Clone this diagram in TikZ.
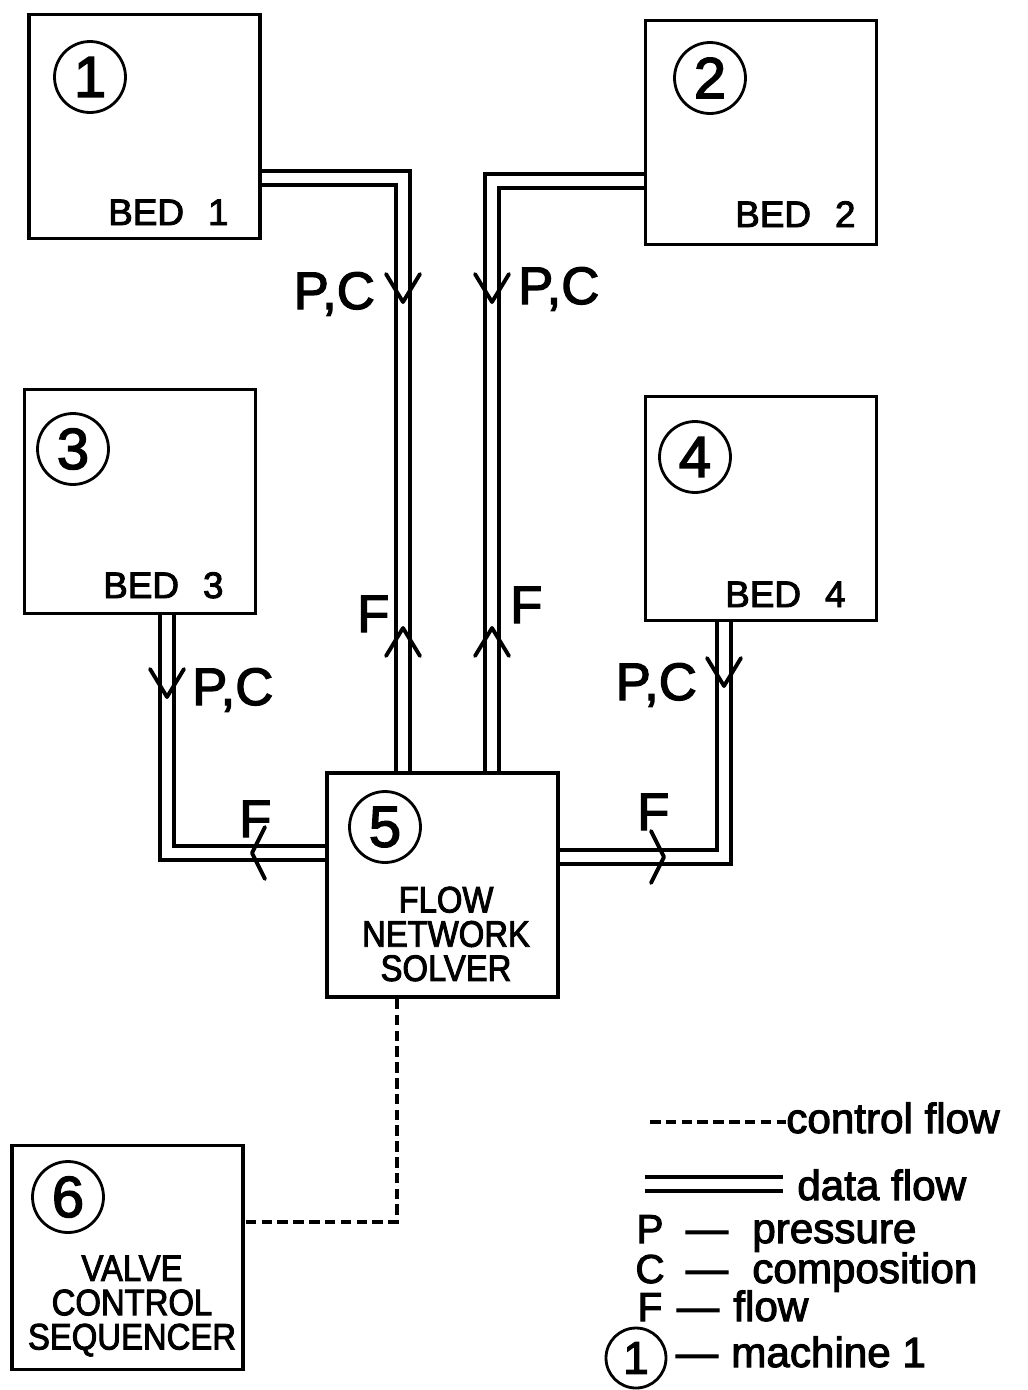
\documentclass[tikz,border=0pt]{standalone}
\usepackage{fontspec}
\setmainfont{Liberation Sans}[RawFeature={embolden=2.5}]
\newfontfamily\narrowfont{Liberation Sans}[FakeStretch=0.89, RawFeature={embolden=2.5}]
\usetikzlibrary{backgrounds}

\begin{document}
\begin{tikzpicture}[
    x=0.02cm, y=-0.02cm,
    box/.style={draw, line width=2.2pt, minimum width=4.62cm, minimum height=4.48cm, inner sep=0pt},
    num/.style={circle, draw, line width=1.6pt, minimum size=1.42cm, inner sep=0pt, font=\fontsize{33}{33}\selectfont},
    bed_label/.style={anchor=base west, font=\fontsize{21}{21}\selectfont},
    box_text/.style={align=center, font=\narrowfont\fontsize{21}{19.5}\selectfont},
    flow_label/.style={font=\fontsize{30}{30}\selectfont},
    legend/.style={anchor=base west, inner sep=0pt, font=\fontsize{24}{24}\selectfont},
    key/.style={anchor=base, inner sep=0pt, font=\fontsize{23}{23}\selectfont},
    dataflow/.style={double, double distance=5.4pt, line width=2.2pt},
    ctrlflow/.style={line width=2pt, dash pattern=on 6pt off 3pt},
    pics/flowtip/.style 2 args={code={
        \draw[line width=2.2pt, line cap=round, line join=round] (-#1,-#2) -- (0,0) -- (#1,-#2);}}
]
    \useasboundingbox (0,0) rectangle (1028,1390);
    \def\gap{\hspace{0.65em}}

    % machines
    \node[box] (bed1) at (144.5,126.5) {};
    \node[box] (bed2) at (761,132.5) {};
    \node[box] (bed3) at (140,501.5) {};
    \node[box] (bed4) at (761,508.5) {};
    \node[box] (solver) at (442.5,885) {};
    \node[box] (seq) at (127.5,1257.5) {};

    \node[num] (n1) at (90,77) {1};
    \node[num] (n2) at (710,78) {2};
    \node[num] (n3) at (73,449) {3};
    \node[num] (n4) at (695,457) {4};
    \node[num] (n5) at (385,827) {5};
    \node[num] (n6) at (68,1197) {6};

    \node[bed_label] at (102,225) {BED\gap 1};
    \node[bed_label] at (729,227) {BED\gap 2};
    \node[bed_label] at (97,598) {BED\gap 3};
    \node[bed_label] at (719,607) {BED\gap 4};
    \node[box_text] (solver_txt) at (446,934) {FLOW\\NETWORK\\SOLVER};
    \node[box_text] (seq_txt) at (132,1306) {VALVE\\CONTROL\\SEQUENCER};

    % data flow pipes
    \coordinate (a) at (403,178);
    \coordinate (b) at (492,181);
    \coordinate (c) at (167,853);
    \coordinate (d) at (724,857);
    \begin{scope}[on background layer]
        \draw[dataflow] (bed1.east |- a) -- (a) -- (a |- solver.north);
        \draw[dataflow] (bed2.west |- b) -- (b) -- (b |- solver.north);
        \draw[dataflow] (c |- bed3.south) -- (c) -- (c -| solver.west);
        \draw[dataflow] (d |- bed4.south) -- (d) -- (d -| solver.east);
    \end{scope}

    \pic at (403,302) {flowtip={17}{28}};
    \pic at (492,302) {flowtip={17}{28}};
    \pic at (167,697) {flowtip={17}{28}};
    \pic at (724,686) {flowtip={17}{28}};
    \pic[rotate=180] at (403,628) {flowtip={17}{28}};
    \pic[rotate=180] at (492,628) {flowtip={17}{28}};
    \pic[rotate=-90] at (252,853) {flowtip={26}{13}};
    \pic[rotate=90] at (664,857) {flowtip={26}{13}};

    \node[flow_label, anchor=base east] at (381,309) {P,C};
    \node[flow_label, anchor=base west] at (512,304) {P,C};
    \node[flow_label, anchor=base west] at (186,705) {P,C};
    \node[flow_label, anchor=base east] at (703,700) {P,C};
    \node[flow_label, anchor=base west] at (351,632) {F};
    \node[flow_label, anchor=base west] at (504,623) {F};
    \node[flow_label, anchor=base west] at (233,837) {F};
    \node[flow_label, anchor=base west] at (631,830) {F};

    % control flow
    \coordinate (cf) at (397,1222);
    \draw[ctrlflow] (cf |- solver.south) -- (cf) -- (seq.east |- cf);

    % legend
    \node[legend] (lg_ctrl) at (786,1133) {control flow};
    \node[legend] (lg_data) at (797,1200) {data flow};
    \coordinate (lc) at (650,1122);
    \coordinate (ld) at (645,1184);
    \draw[ctrlflow] (lc) -- (lc -| lg_ctrl.west);
    \draw[dataflow] (ld) -- (783,1184);
    \node[key] at (650,1243) {P};
    \node[key] at (650,1283) {C};
    \node[key] at (650,1321) {F};
    \node[num, minimum size=1.2cm, font=\fontsize{26}{26}\selectfont] (n_key) at (636,1358) {1};
    \node[legend, anchor=base] at (707,1243) {—};
    \node[legend, anchor=base] at (707,1283) {—};
    \node[legend, anchor=base] at (698,1321) {—};
    \node[legend, anchor=base] at (697,1367) {—};
    \node[legend] at (752,1243) {pressure};
    \node[legend] at (752,1283) {composition};
    \node[legend] at (733,1321) {flow};
    \node[legend] at (731,1367) {machine 1};
\end{tikzpicture}
\end{document}
